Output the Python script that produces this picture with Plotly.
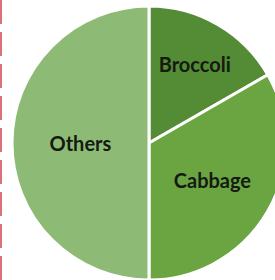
import plotly.graph_objects as go

categories = ["Broccoli", "Cabbage", "Others"]
values = [16.7, 33.3, 50.0]
colors = ["#548B35", "#6BA542", "#8DBA75"]

W, H = 290, 280

fig = go.Figure(go.Pie(
    labels=categories,
    values=values,
    sort=False,
    direction="clockwise",
    rotation=0,
    marker=dict(colors=colors, line=dict(color="white", width=3)),
    textinfo="label",
    textposition="inside",
    insidetextorientation="horizontal",
    textfont=dict(family="Lato", size=20, color="#151a12", weight="bold"),
    showlegend=False,
    hoverinfo="label+percent",
    domain=dict(x=[12 / W, 286 / W], y=[0.0, (H - 6) / H]),
))

fig.add_shape(type="line", xref="paper", yref="paper", x0=1 / W, x1=1 / W, y0=0, y1=1,
              line=dict(color="#D9707A", width=2, dash="24px,8px"))

fig.update_layout(
    width=W, height=H,
    margin=dict(l=0, r=0, t=0, b=0),
    paper_bgcolor="white", plot_bgcolor="white",
)

fig.write_html(
    "out.html",
    config={"displayModeBar": False},
    post_script="document.body.style.margin='0';document.body.style.overflow='hidden';",
)
